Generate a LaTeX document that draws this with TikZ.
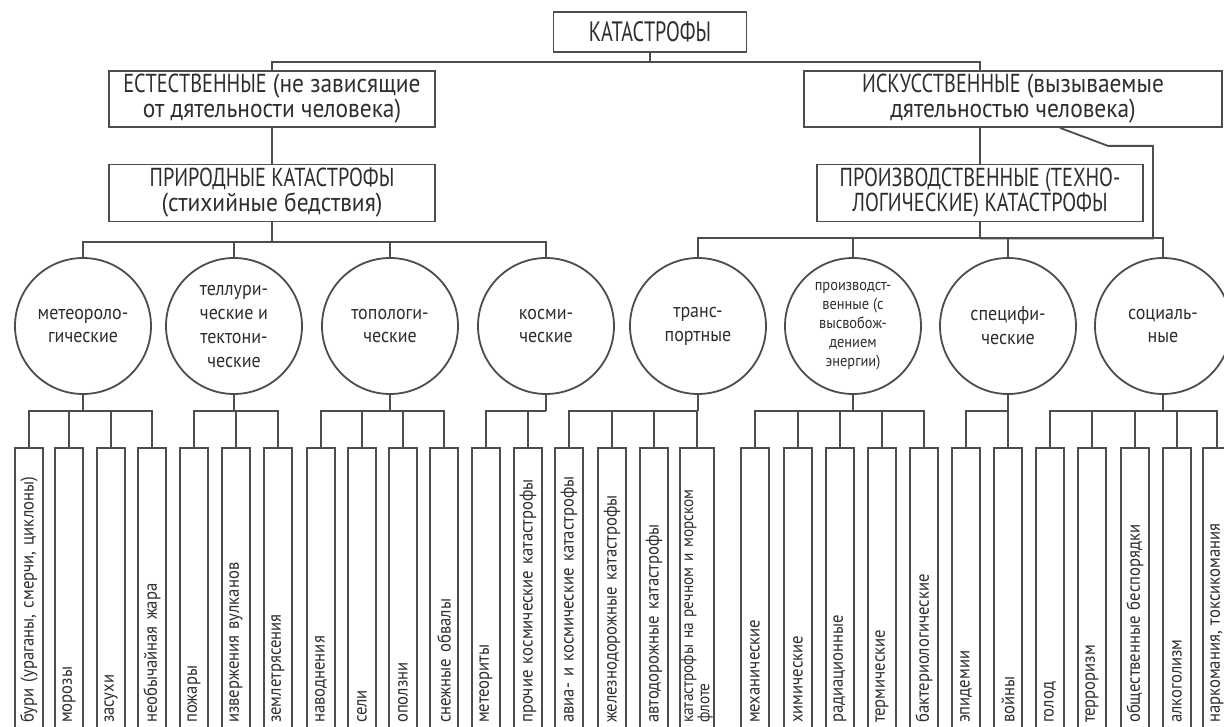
\documentclass[tikz,border=0pt]{standalone}
\usepackage{fontspec}
\setmainfont{PT Sans}[FakeStretch=0.9]
\newfontfamily\capsf{PT Sans}[FakeStretch=0.78]
\newfontfamily\katf{PT Sans}[FakeStretch=0.72]
\definecolor{linec}{HTML}{4D4D4D}
\definecolor{textc}{HTML}{2E2E2E}
\begin{document}
\begin{tikzpicture}[x=1pt,y=-1pt,
  line/.style={draw=linec, line width=1.8pt},
  box/.style={draw=linec, line width=1.8pt, align=center, inner sep=0pt, text=textc, font=\fontsize{26}{25}\selectfont},
  circ/.style={circle, draw=linec, line width=1.8pt, minimum size=136pt, inner sep=0pt, align=center, text=textc, font=\fontsize{20}{24}\selectfont},
  leaf/.style={draw=linec, line width=1.8pt, rotate=90, anchor=east, minimum height=28pt, text width=266pt, inner xsep=9pt, inner ysep=1pt, align=left, text=textc, font=\fontsize{18.5}{15}\selectfont},
]
\useasboundingbox (0,0) rectangle (1224,727);
\clip (0,0) rectangle (1224,727);
\fill[white] (0,0) rectangle (1224,727);

% top level
\node[box, minimum width=193pt, minimum height=40pt, font=\fontsize{28}{30}\selectfont\katf] (kat) at (650,32) {КАТАСТРОФЫ};
\node[box, minimum width=326pt, minimum height=56pt] (est) at (272,99) {{\capsf ЕСТЕСТВЕННЫЕ} (не зависящие\\от дятельности человека)};
\node[box, minimum width=418pt, minimum height=56pt] (isk) at (1013,99) {{\capsf ИСКУССТВЕННЫЕ} (вызываемые\\дятельностью человека)};
\node[box, minimum width=326pt, minimum height=57pt] (prir) at (272,193) {{\capsf ПРИРОДНЫЕ КАТАСТРОФЫ}\\(стихийные бедствия)};
\node[box, minimum width=326pt, minimum height=57pt, font=\fontsize{26}{25}\selectfont\capsf] (proizv) at (980,193) {ПРОИЗВОДСТВЕННЫЕ (ТЕХНО-\\ЛОГИЧЕСКИЕ) КАТАСТРОФЫ};

% circles
\node[circ] (meteo) at (83,326) {метеороло-\\гические};
\node[circ] (tell) at (234,326) {теллури-\\ческие и\\тектони-\\ческие};
\node[circ] (topo) at (390,326) {топологи-\\ческие};
\node[circ] (kosm) at (546,326) {косми-\\ческие};
\node[circ] (trans) at (698,326) {транс-\\портные};
\node[circ, font=\fontsize{16}{19}\selectfont] (prod) at (853,326) {производст-\\венные (с\\высвобож-\\дением\\энергии)};
\node[circ] (spec) at (1008,326) {специфи-\\ческие};
\node[circ] (soc) at (1163,326) {социаль-\\ные};

% leaves
\node[leaf] (l1) at (29,447) {бури (ураганы, смерчи, циклоны)};
\node[leaf] (l2) at (69,447) {морозы};
\node[leaf] (l3) at (111,447) {засухи};
\node[leaf] (l4) at (152,447) {необычайная жара};
\node[leaf] (l5) at (194,447) {пожары};
\node[leaf] (l6) at (236,447) {извержения вулканов};
\node[leaf] (l7) at (278,447) {землетрясения};
\node[leaf] (l8) at (321,447) {наводнения};
\node[leaf] (l9) at (362,447) {сели};
\node[leaf] (l10) at (403,447) {оползни};
\node[leaf] (l11) at (444,447) {снежные обвалы};
\node[leaf] (l12) at (486,447) {метеориты};
\node[leaf] (l13) at (528,447) {прочие космические катастрофы};
\node[leaf] (l14) at (569,447) {авиа- и космические катастрофы};
\node[leaf] (l15) at (612,447) {железнодорожные катастрофы};
\node[leaf] (l16) at (654,447) {автодорожные катастрофы};
\node[leaf, font=\fontsize{17}{14}\selectfont] (l17) at (697,447) {катастрофы на речном и морском\\флоте};
\node[leaf] (l18) at (755,447) {механические};
\node[leaf] (l19) at (798,447) {химические};
\node[leaf] (l20) at (840,447) {радиационные};
\node[leaf] (l21) at (882,447) {термические};
\node[leaf] (l22) at (924,447) {бактериологические};
\node[leaf] (l23) at (966,447) {эпидемии};
\node[leaf] (l24) at (1008,447) {войны};
\node[leaf] (l25) at (1050,447) {голод};
\node[leaf] (l26) at (1092,447) {терроризм};
\node[leaf] (l27) at (1135,447) {общественные беспорядки};
\node[leaf] (l28) at (1177,447) {алкоголизм};
\node[leaf] (l29) at (1217,447) {наркомания, токсикомания};

% top connectors
\draw[line] (kat.south) -- ++(0,9) coordinate (kb);
\draw[line] (est.north) |- (kb) -| ([xshift=-33pt]isk.north);
\draw[line] (est) -- (prir);
\draw[line] ([xshift=-33pt]isk.south) -- (proizv.north);

% group bars
\draw[line] (prir.south) -- ++(0,20) coordinate (lb);
\foreach \c in {meteo,tell,topo,kosm} \draw[line] (lb) -| (\c.north);
\draw[line] (proizv.south) -- ++(0,16) coordinate (rb);
\foreach \c in {trans,prod,spec,soc} \draw[line] (rb) -| (\c.north);
\draw[line] ([xshift=47pt]isk.south) -- ++(48,18) -- ++(45,0) |- (rb);

% circle to leaves
\foreach \c/\ls in {meteo/{l1,l2,l3,l4}, tell/{l5,l6,l7}, topo/{l8,l9,l10,l11}, kosm/{l12,l13}, trans/{l14,l15,l16,l17}, prod/{l18,l19,l20,l21,l22}, spec/{l23,l24}, soc/{l25,l26,l27,l28,l29}} {
  \draw[line] (\c.south) -- ++(0,16) coordinate (cb);
  \foreach \l in \ls \draw[line] (cb) -| (\l.east);
}
\end{tikzpicture}
\end{document}
